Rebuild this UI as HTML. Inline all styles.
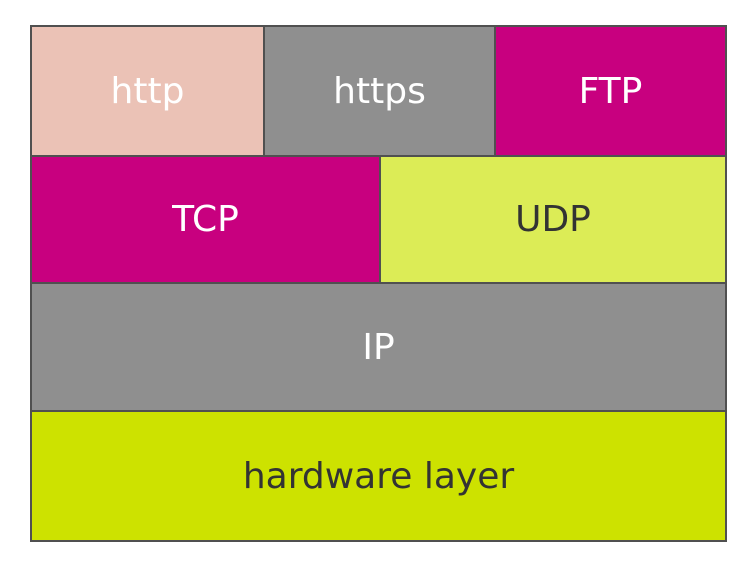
<!DOCTYPE html>
<html><head><style>
body{margin:0;width:747px;height:565px;background:#fff;position:relative;overflow:hidden;font-family:"DejaVu Sans","Liberation Sans",sans-serif;}
.b{position:absolute;box-sizing:border-box;border:2px solid #505050;display:flex;align-items:center;justify-content:center;font-size:36px;}
.w{color:#fff}.d{color:#333}
</style></head><body>
<div class="b w" style="left:30px;top:25px;width:235px;height:132px;background:#ebc2b6">http</div>
<div class="b w" style="left:263px;top:25px;width:233px;height:132px;background:#8f8f8f">https</div>
<div class="b w" style="left:494px;top:25px;width:233px;height:132px;background:#c8007f">FTP</div>
<div class="b w" style="left:30px;top:155px;width:351px;height:129px;background:#c8007f">TCP</div>
<div class="b d" style="left:379px;top:155px;width:348px;height:129px;background:#dcec56">UDP</div>
<div class="b w" style="left:30px;top:282px;width:697px;height:130px;background:#8f8f8f">IP</div>
<div class="b d" style="left:30px;top:410px;width:697px;height:132px;background:#cde200">hardware layer</div>
</body></html>
